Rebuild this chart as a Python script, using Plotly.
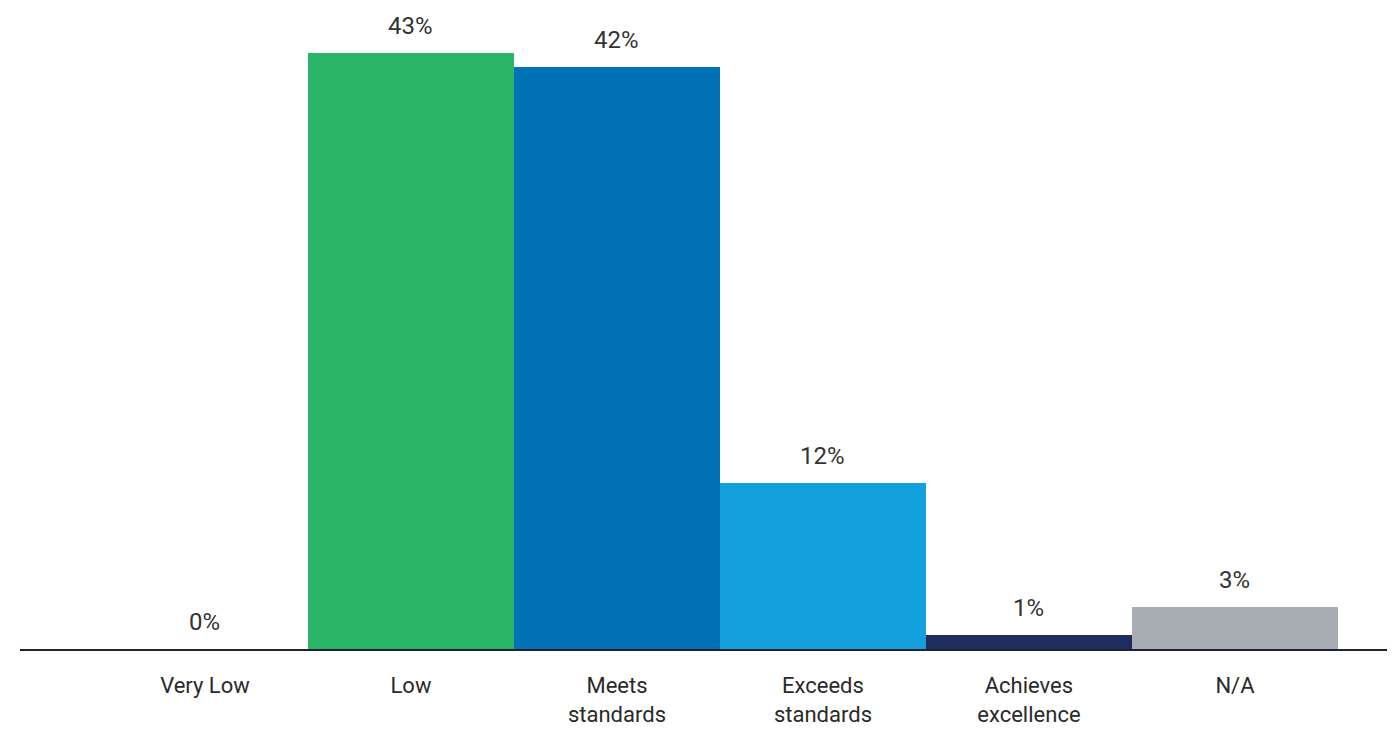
import plotly.graph_objects as go

categories = ["Very Low", "Low", "Meets standards", "Exceeds standards", "Achieves excellence", "N/A"]
tick_labels = ["Very Low", "Low", "Meets<br>standards", "Exceeds<br>standards", "Achieves<br>excellence", "N/A"]
values = [0, 43, 42, 12, 1, 3]
value_labels = ["0%", "43%", "42%", "12%", "1%", "3%"]
colors = ["#2ab569", "#2ab569", "#0072b5", "#14a0dc", "#1f2d5e", "#a7adb2"]

FONT = "Roboto"
TEXT = "#333333"

fig = go.Figure()
fig.add_trace(go.Bar(
    x=categories, y=values,
    marker=dict(color=colors, line=dict(width=0)),
    hoverinfo="skip",
))

for c, v, t in zip(categories, values, value_labels):
    fig.add_annotation(x=c, y=v, text=t, showarrow=False, yanchor="bottom",
                       yshift=11, font=dict(family=FONT, size=24, color=TEXT))

fig.update_layout(
    width=1387, height=722,
    margin=dict(l=12, r=0, t=12, b=81, autoexpand=False),
    paper_bgcolor="white", plot_bgcolor="white",
    bargap=0, showlegend=False,
    font=dict(family=FONT, size=24, color=TEXT),
)
fig.update_xaxes(
    type="category", range=[-0.898, 5.777], automargin=False,
    tickmode="array", tickvals=categories, ticktext=tick_labels,
    showline=True, linecolor="#1c2233", linewidth=1.5,
    showgrid=False, zeroline=False, ticks="", ticklabelstandoff=16,
    tickfont=dict(family=FONT, size=22, color="#2a2a2a"),
)
fig.update_yaxes(range=[0, 45.38], visible=False, showgrid=False, zeroline=False)

fig.write_html("out.html")
